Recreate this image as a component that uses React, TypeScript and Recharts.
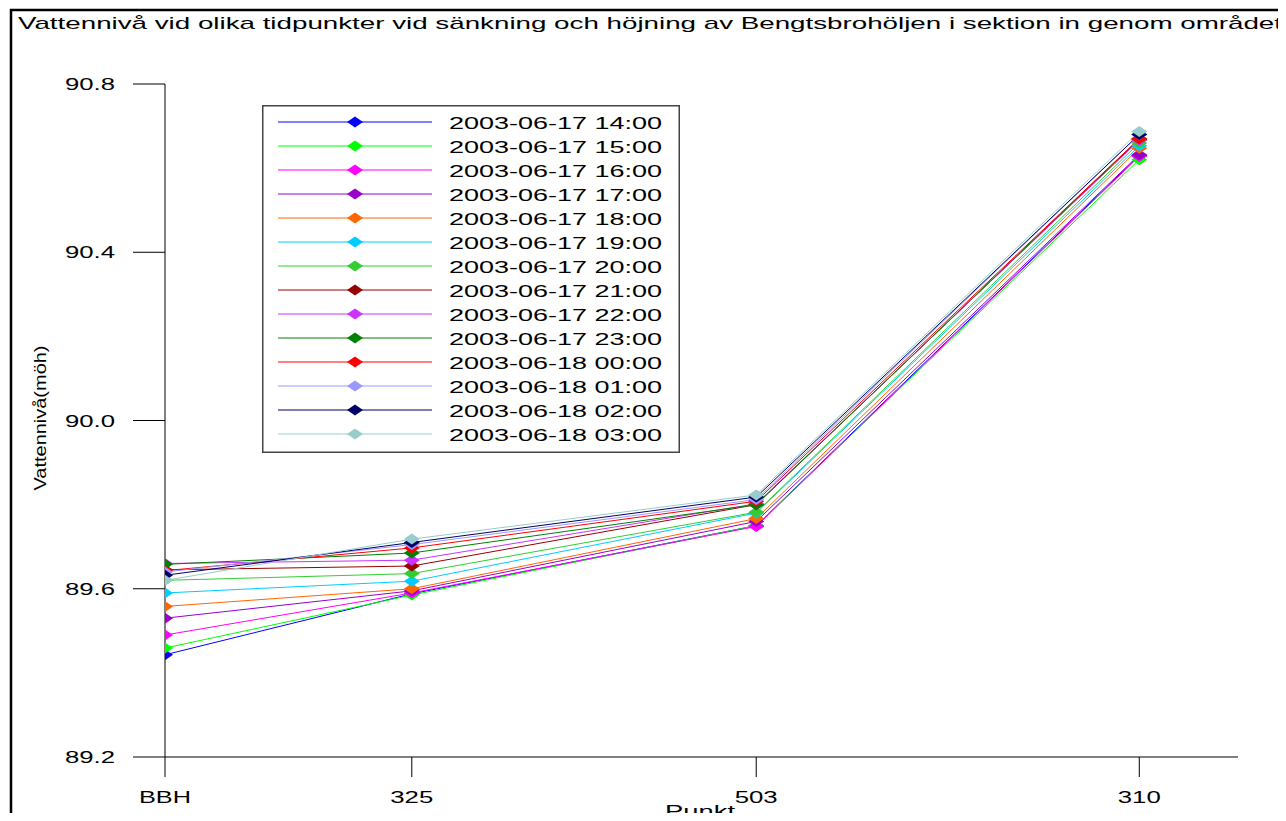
import { LineChart, Line, XAxis, YAxis, Legend } from "recharts";

// punkt along the section, and their (approximate) position along it
const points = ["BBH", "325", "503", "310"];
const distance = [0, 230, 551, 908];

const times = [
  "2003-06-17 14:00",
  "2003-06-17 15:00",
  "2003-06-17 16:00",
  "2003-06-17 17:00",
  "2003-06-17 18:00",
  "2003-06-17 19:00",
  "2003-06-17 20:00",
  "2003-06-17 21:00",
  "2003-06-17 22:00",
  "2003-06-17 23:00",
  "2003-06-18 00:00",
  "2003-06-18 01:00",
  "2003-06-18 02:00",
  "2003-06-18 03:00",
];

const colors = [
  "#0000ff",
  "#00ff00",
  "#ff00ff",
  "#9900cc",
  "#ff6600",
  "#00ccff",
  "#33cc33",
  "#990000",
  "#cc33ff",
  "#008000",
  "#ff0000",
  "#9999ff",
  "#000066",
  "#99cccc",
];

// vattennivå (möh) at BBH, 325, 503, 310
const h1400 = [89.443, 89.588, 89.75, 90.63];
const h1500 = [89.459, 89.585, 89.75, 90.62];
const h1600 = [89.49, 89.59, 89.748, 90.628];
const h1700 = [89.53, 89.595, 89.76, 90.632];
const h1800 = [89.558, 89.6, 89.767, 90.647];
const h1900 = [89.59, 89.618, 89.78, 90.653];
const h2000 = [89.62, 89.636, 89.782, 90.66];
const h2100 = [89.645, 89.654, 89.8, 90.668];
const h2200 = [89.66, 89.668, 89.802, 90.666];
const h2300 = [89.658, 89.685, 89.8, 90.67];
const h0000 = [89.643, 89.697, 89.808, 90.67];
const h0100 = [89.64, 89.705, 89.812, 90.68];
const h0200 = [89.632, 89.71, 89.818, 90.68];
const h0300 = [89.62, 89.718, 89.823, 90.687];

const series = [
  h1400, h1500, h1600, h1700, h1800, h1900, h2000,
  h2100, h2200, h2300, h0000, h0100, h0200, h0300,
];

const yTicks = [89.2, 89.6, 90.0, 90.4, 90.8];

const data = points.map((p, i) => {
  const row: Record<string, number | string> = { punkt: p, dist: distance[i] };
  series.forEach((s, k) => {
    row["s" + k] = s[i];
  });
  return row;
});

const font = "'Liberation Sans', Arial, sans-serif";

const diamond = (cx: number, cy: number) =>
  `${cx - 8},${cy} ${cx},${cy - 5.5} ${cx + 8},${cy} ${cx},${cy + 5.5}`;

const makeDot = (color: string) => (props: any) => {
  const { cx, cy, key, index } = props;
  if (cx == null || cy == null) return <g key={key ?? index} />;
  return <polygon key={key ?? index} points={diamond(cx, cy)} fill={color} />;
};

const XTick = (props: any) => {
  const { x, y, payload } = props;
  const i = distance.indexOf(payload.value);
  const label = i >= 0 ? points[i] : "";
  const widths: Record<string, number> = { BBH: 52, "325": 43, "503": 43, "310": 43 };
  return (
    <text
      x={x}
      y={y + 22}
      textAnchor="middle"
      fontSize={17}
      fontFamily={font}
      fill="#000"
      textLength={widths[label] ?? 43}
      lengthAdjust="spacingAndGlyphs"
    >
      {label}
    </text>
  );
};

const YTick = (props: any) => {
  const { x, y, payload } = props;
  return (
    <text
      x={x}
      y={y + 6}
      textAnchor="end"
      fontSize={17}
      fontFamily={font}
      fill="#000"
      textLength={50}
      lengthAdjust="spacingAndGlyphs"
    >
      {Number(payload.value).toFixed(1)}
    </text>
  );
};

const renderLegend = (props: any) => {
  const payload: any[] = props.payload ?? [];
  const items = payload.length
    ? payload.map((p) => ({ name: String(p.value), color: p.color }))
    : times.map((t, i) => ({ name: t, color: colors[i] }));
  return (
    <svg width={418} height={348} style={{ display: "block" }}>
      <rect x={0.75} y={0.75} width={416.5} height={346.5} fill="#fff" stroke="#444" strokeWidth={1.5} />
      {items.map((it, i) => {
        const y = 17 + 24 * i;
        return (
          <g key={it.name}>
            <line x1={16} x2={170} y1={y} y2={y} stroke={it.color} strokeWidth={1} />
            <polygon points={diamond(93, y)} fill={it.color} />
            <text
              x={187}
              y={y + 6.5}
              fontSize={17}
              fontFamily={font}
              fill="#000"
              textLength={213}
              lengthAdjust="spacingAndGlyphs"
            >
              {it.name}
            </text>
          </g>
        );
      })}
    </svg>
  );
};

export default function App() {
  return (
    <div
      style={{
        margin: -8,
        width: 1286,
        height: 821,
        overflow: "hidden",
        position: "relative",
        background: "#fff",
      }}
    >
      <svg
        width={1286}
        height={821}
        style={{ position: "absolute", left: 0, top: 0, pointerEvents: "none" }}
      >
        <path d="M11 830 L11 10 L1300 10" fill="none" stroke="#000" strokeWidth={2.5} />
        <text
          x={18}
          y={29}
          fontSize={17}
          fontFamily={font}
          fill="#000"
          textLength={1264}
          lengthAdjust="spacingAndGlyphs"
        >
          Vattennivå vid olika tidpunkter vid sänkning och höjning av Bengtsbrohöljen i sektion in genom området
        </text>
        <text
          transform="translate(46,418) rotate(-90)"
          textAnchor="middle"
          fontSize={17}
          fontFamily={font}
          fill="#000"
          textLength={145}
          lengthAdjust="spacingAndGlyphs"
        >
          Vattennivå(möh)
        </text>
        <text
          x={700}
          y={817}
          textAnchor="middle"
          fontSize={17}
          fontFamily={font}
          fill="#000"
          textLength={70}
          lengthAdjust="spacingAndGlyphs"
        >
          Punkt
        </text>
      </svg>
      <div style={{ position: "absolute", left: 0, top: 0 }}>
        <LineChart
          width={1286}
          height={821}
          data={data}
          margin={{ top: 84, right: 48, bottom: 0, left: 0 }}
        >
          <XAxis
            dataKey="dist"
            type="number"
            domain={[0, 1000]}
            ticks={distance}
            tick={<XTick />}
            tickSize={20}
            tickMargin={4}
            height={64}
            stroke="#000"
            tickLine={{ stroke: "#000" }}
            allowDataOverflow
          />
          <YAxis
            type="number"
            domain={[89.2, 90.8]}
            ticks={yTicks}
            tick={<YTick />}
            tickSize={32}
            tickMargin={18}
            width={165}
            stroke="#000"
            tickLine={{ stroke: "#000" }}
            allowDataOverflow
          />
          <Legend
            layout="vertical"
            verticalAlign="middle"
            align="center"
            content={renderLegend}
            wrapperStyle={{ position: "absolute", left: 262, top: 105, width: 418, height: 348 }}
          />
          {series.map((_, k) => (
            <Line
              key={times[k]}
              dataKey={"s" + k}
              name={times[k]}
              stroke={colors[k]}
              strokeWidth={1}
              dot={makeDot(colors[k])}
              activeDot={false}
              isAnimationActive={false}
            />
          ))}
        </LineChart>
      </div>
    </div>
  );
}
